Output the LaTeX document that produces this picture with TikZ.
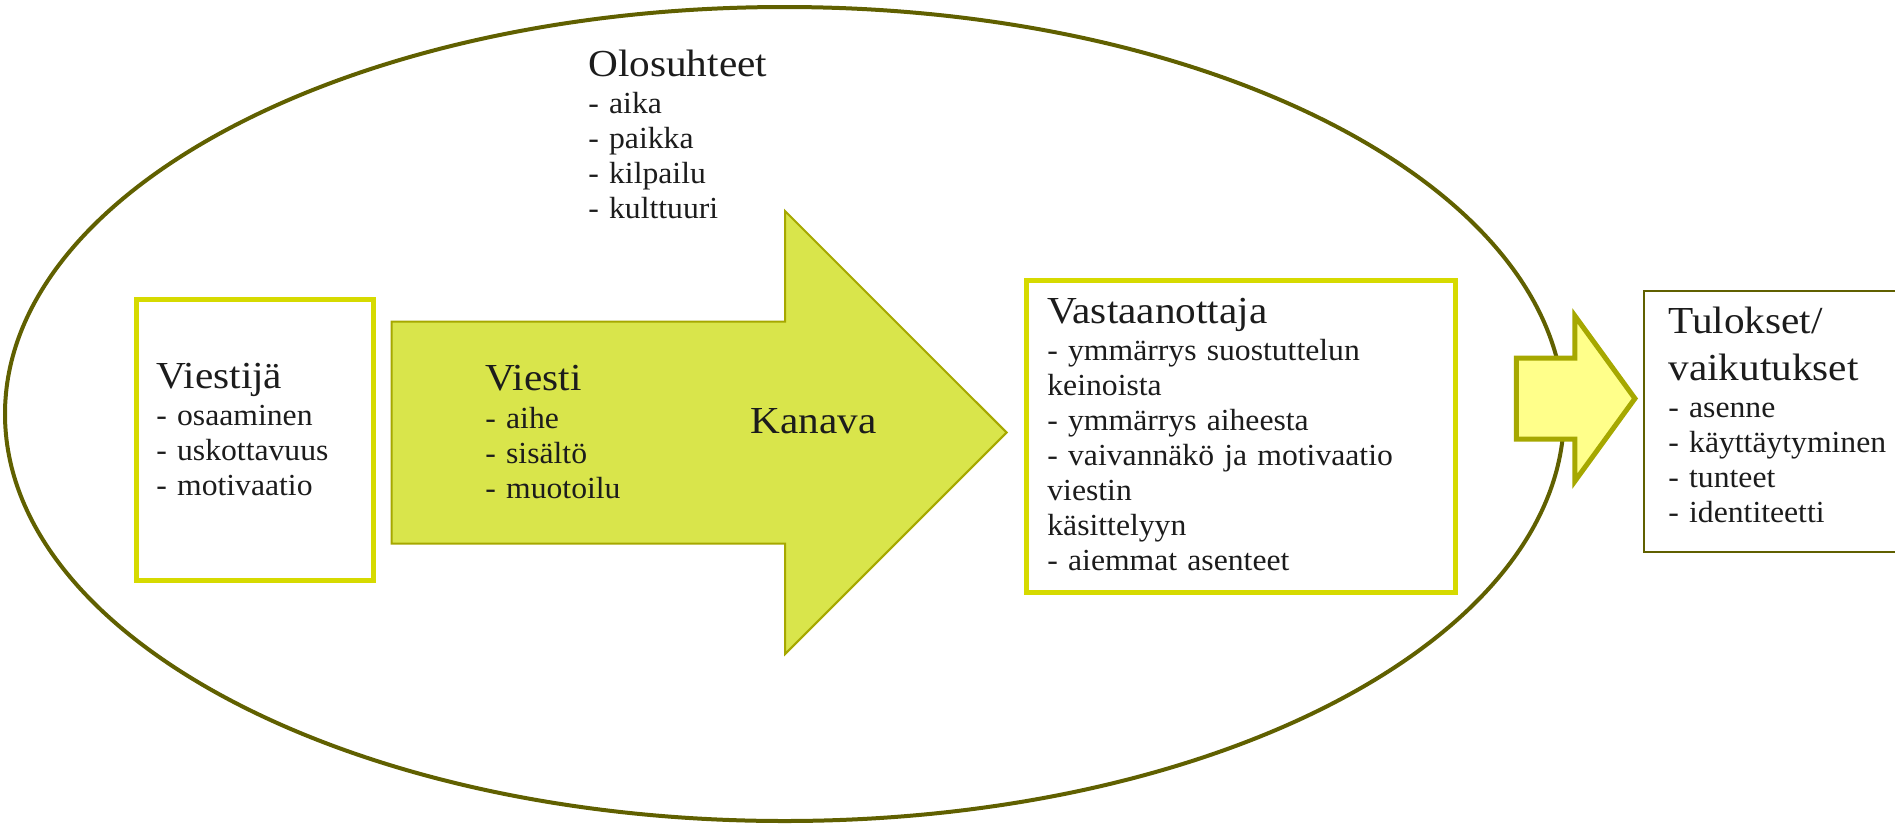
\documentclass[tikz,border=0pt]{standalone}
\usepackage{fontspec}
\setmainfont[FakeStretch=1.08]{Liberation Serif}
\newfontfamily\listaperhe[FakeStretch=1.035]{Liberation Serif}
\usepackage{tikz}
\usetikzlibrary{shapes.geometric, shapes.arrows}

\definecolor{oliivi}{RGB}{96,96,0}
\definecolor{kelta}{RGB}{214,218,0}
\definecolor{nuolireuna}{RGB}{166,168,0}
\definecolor{nuolitayte}{RGB}{217,229,75}
\definecolor{vaaleakelta}{RGB}{255,255,138}
\definecolor{teksti}{RGB}{28,28,28}

\newcommand{\otsikko}[1]{{\rmfamily\fontsize{19.1}{22}\selectfont #1}}
\newcommand{\listafontti}{\listaperhe\fontsize{15.3}{17.5}\selectfont}

\tikzset{
		ympyra/.style={draw=oliivi, line width=2pt, ellipse, inner sep=0pt, minimum width=779.5pt, minimum height=407pt},
		keltalaatikko/.style={draw=kelta, line width=2.5pt, fill=white, rectangle, inner sep=0pt},
		oliivilaatikko/.style={draw=oliivi, line width=1pt, fill=white, rectangle, inner sep=0pt},
		isonuoli/.style={single arrow, draw=nuolireuna, fill=nuolitayte, line width=1pt, anchor=tip, inner xsep=0pt, inner ysep=55pt,
			minimum height=307.5pt, single arrow head extend=55.25pt, single arrow tip angle=90},
		pieninuoli/.style={single arrow, draw=nuolireuna, fill=vaaleakelta, line width=2.5pt, anchor=tip, inner xsep=0pt, inner ysep=19pt,
			minimum height=59.25pt, single arrow head extend=21pt, single arrow tip angle=108},
		tekstilohko/.style={anchor=base west, inner sep=0pt, text width=200pt, align=left, font=\listafontti, text=teksti}
	}

\begin{document}
\begin{tikzpicture}[x=0.5pt, y=-0.5pt, line join=miter]
				\useasboundingbox (0,0) rectangle (1895,826);
				\node[ympyra]                                        (olosuhteet) at (784.5,414)  {};
				\node[tekstilohko]                                   (olot)       at (588,76)     {\otsikko{Olosuhteet}\\[1pt] - aika\\ - paikka\\ - kilpailu\\ - kulttuuri};
				
				\node[keltalaatikko, minimum width=118.5pt, minimum height=140.5pt] (viestija) at (255,440) {};
				\node[tekstilohko]                                   (lahettaja)  at (156,388)    {\otsikko{Viestijä}\\[1pt] - osaaminen\\ - uskottavuus\\ - motivaatio};
				
				\node[isonuoli]                                      (kanava)     at (1008,432.5) {};
				\node[tekstilohko]                                   (viesti)     at (485,390)    {\otsikko{Viesti}\\[1.5pt] - aihe\\ - sisältö\\ - muotoilu};
				\node[tekstilohko]                                   (kanavanimi) at (750,433)    {\otsikko{Kanava}};
				
				\node[keltalaatikko, minimum width=214.5pt, minimum height=156pt] (vastaanottaja) at (1241,436.5) {};
				\node[tekstilohko]                                   (vastaanotto) at (1047,323)  {\otsikko{Vastaanottaja}\\[1pt] - ymmärrys suostuttelun\\ keinoista\\ - ymmärrys aiheesta\\ - vaivannäkö ja motivaatio\\ viestin\\ käsittelyyn\\ - aiemmat asenteet};
				
				\node[pieninuoli]                                    (vaikutus)   at (1638,398.5) {};
				
				\node[oliivilaatikko, minimum width=142pt, minimum height=130.5pt] (tulokset) at (1786,421.5) {};
				\node[tekstilohko]                                   (tulos)      at (1668,333)   {\otsikko{Tulokset/}\\[6pt] \otsikko{vaikutukset}\\[1pt] - asenne\\ - käyttäytyminen\\ - tunteet\\ - identiteetti};
			\end{tikzpicture}
\end{document}
